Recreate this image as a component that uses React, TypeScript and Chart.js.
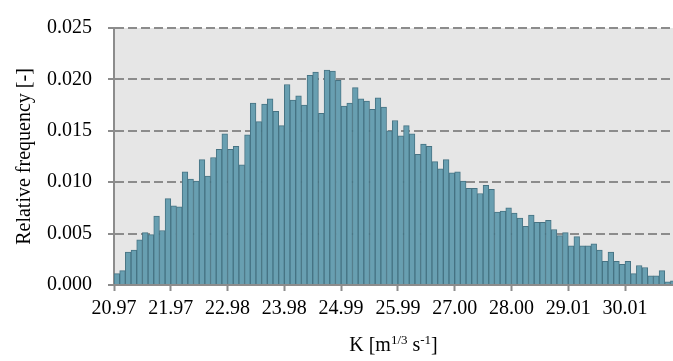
import React, { useEffect, useRef } from 'react';
import { Chart, registerables } from 'chart.js';

Chart.register(...registerables);

// Relative frequency of each histogram bin (bin width ≈ 0.1004, first bin starts at 20.97)
const frequencies: number[] = [
  0.0011, 0.0014, 0.0032, 0.0034, 0.0044, 0.0051, 0.0049, 0.0067, 0.0053, 0.0084,
  0.0077, 0.0076, 0.0110, 0.0103, 0.0101, 0.0122, 0.0106, 0.0124, 0.0132, 0.0147,
  0.0132, 0.0135, 0.0117, 0.0146, 0.0177, 0.0159, 0.0176, 0.0181, 0.0169, 0.0155,
  0.0195, 0.0180, 0.0184, 0.0175, 0.0204, 0.0207, 0.0167, 0.0209, 0.0208, 0.0199,
  0.0174, 0.0177, 0.0192, 0.0181, 0.0179, 0.0171, 0.0182, 0.0173, 0.0150, 0.0160,
  0.0145, 0.0155, 0.0147, 0.0127, 0.0137, 0.0135, 0.0120, 0.0113, 0.0122, 0.0109,
  0.0110, 0.0101, 0.0094, 0.0094, 0.0089, 0.0097, 0.0093, 0.0071, 0.0072, 0.0075,
  0.0070, 0.0065, 0.0057, 0.0068, 0.0061, 0.0061, 0.0063, 0.0054, 0.0048, 0.0051,
  0.0038, 0.0047, 0.0038, 0.0038, 0.0040, 0.0034, 0.0023, 0.0032, 0.0023, 0.0020,
  0.0023, 0.0011, 0.0019, 0.0017, 0.0009, 0.0009, 0.0014, 0.0003, 0.0004,
];

// x-axis labels, one every 10 bins (at bin edges)
const tickLabels: string[] = [
  '20.97', '21.97', '22.98', '23.98', '24.99', '25.99', '27.00', '28.00', '29.01', '30.01',
];
const binsPerLabel = 10;

const yMin = 0;
const yMax = 0.025;
const yStep = 0.005;

const yTitle = 'Relative frequency [-]';
// x title pieces: [text, isSuperscript]
const xTitleParts: [string, boolean][] = [
  ['K [m', false],
  ['1/3', true],
  [' s', false],
  ['-1', true],
  [']', false],
];

const FONT_FAMILY = '"Liberation Serif", "Times New Roman", serif';

export default function App() {
  const ref = useRef<HTMLCanvasElement | null>(null);

  useEffect(() => {
    if (!ref.current) return;

    const plotBg = {
      id: 'plotBg',
      beforeDraw(chart: any) {
        const { ctx, chartArea: a } = chart;
        ctx.save();
        ctx.fillStyle = '#e6e6e6';
        ctx.fillRect(a.left, a.top, a.right - a.left, a.bottom - a.top);
        ctx.restore();
      },
    };

    const xTitle = {
      id: 'xTitle',
      afterDraw(chart: any) {
        const { ctx, chartArea: a } = chart;
        const base = `20px ${FONT_FAMILY}`;
        const sup = `13px ${FONT_FAMILY}`;
        ctx.save();
        ctx.fillStyle = '#000';
        ctx.textBaseline = 'alphabetic';
        ctx.textAlign = 'left';
        let total = 0;
        for (const [t, s] of xTitleParts) {
          ctx.font = s ? sup : base;
          total += ctx.measureText(t).width;
        }
        let x = (a.left + a.right) / 2 - total / 2;
        const y = 351;
        for (const [t, s] of xTitleParts) {
          ctx.font = s ? sup : base;
          ctx.fillText(t, x, s ? y - 7 : y);
          x += ctx.measureText(t).width;
        }
        ctx.restore();
      },
    };

    const font = { family: FONT_FAMILY, size: 20 };

    const chart = new Chart(ref.current, {
      type: 'bar',
      data: {
        datasets: [
          {
            data: frequencies.map((v, i) => ({ x: i + 0.5, y: v })),
            backgroundColor: 'rgb(104,159,177)',
            borderColor: 'rgb(70,115,131)',
            borderWidth: 1,
            barPercentage: 1,
            categoryPercentage: 1,
          } as any,
        ],
      },
      options: {
        animation: false,
        responsive: false,
        devicePixelRatio: 1,
        layout: { padding: { top: 19, left: 0, right: 0, bottom: 0 } },
        plugins: { legend: { display: false }, tooltip: { enabled: false } },
        scales: {
          x: {
            type: 'linear',
            offset: false,
            min: 0,
            max: 98.45,
            afterBuildTicks: (s: any) => {
              s.ticks = tickLabels.map((_, k) => ({ value: k * binsPerLabel }));
            },
            afterFit: (s: any) => {
              s.height = 76;
            },
            ticks: {
              autoSkip: false,
              maxRotation: 0,
              minRotation: 0,
              padding: 6,
              color: '#000',
              font,
              callback: (v: any) => tickLabels[Math.round(Number(v) / binsPerLabel)] ?? '',
            },
            grid: {
              offset: false,
              drawOnChartArea: false,
              drawTicks: true,
              tickLength: 6,
              tickColor: '#8c8c8c',
              tickWidth: 2,
            },
            border: { color: '#8c8c8c', width: 2 },
          },
          y: {
            min: yMin,
            max: yMax,
            afterFit: (s: any) => {
              s.width = 114;
            },
            ticks: {
              stepSize: yStep,
              padding: 16,
              color: '#000',
              font,
              callback: (v: any) => Number(v).toFixed(3),
            },
            grid: {
              color: '#8c8c8c',
              lineWidth: 2,
              drawTicks: true,
              tickLength: 6,
              tickColor: '#8c8c8c',
              tickWidth: 2,
            },
            border: { dash: [9, 4], color: '#8c8c8c', width: 2 },
            title: {
              display: true,
              text: yTitle,
              color: '#000',
              font,
              padding: { top: 13, bottom: 0 },
            },
          },
        },
      } as any,
      plugins: [plotBg, xTitle],
    });

    return () => chart.destroy();
  }, []);

  return (
    <div style={{ position: 'absolute', left: 0, top: 0, width: 673, height: 361, background: '#fff' }}>
      <canvas ref={ref} width={673} height={361} style={{ display: 'block', width: 673, height: 361 }} />
    </div>
  );
}
